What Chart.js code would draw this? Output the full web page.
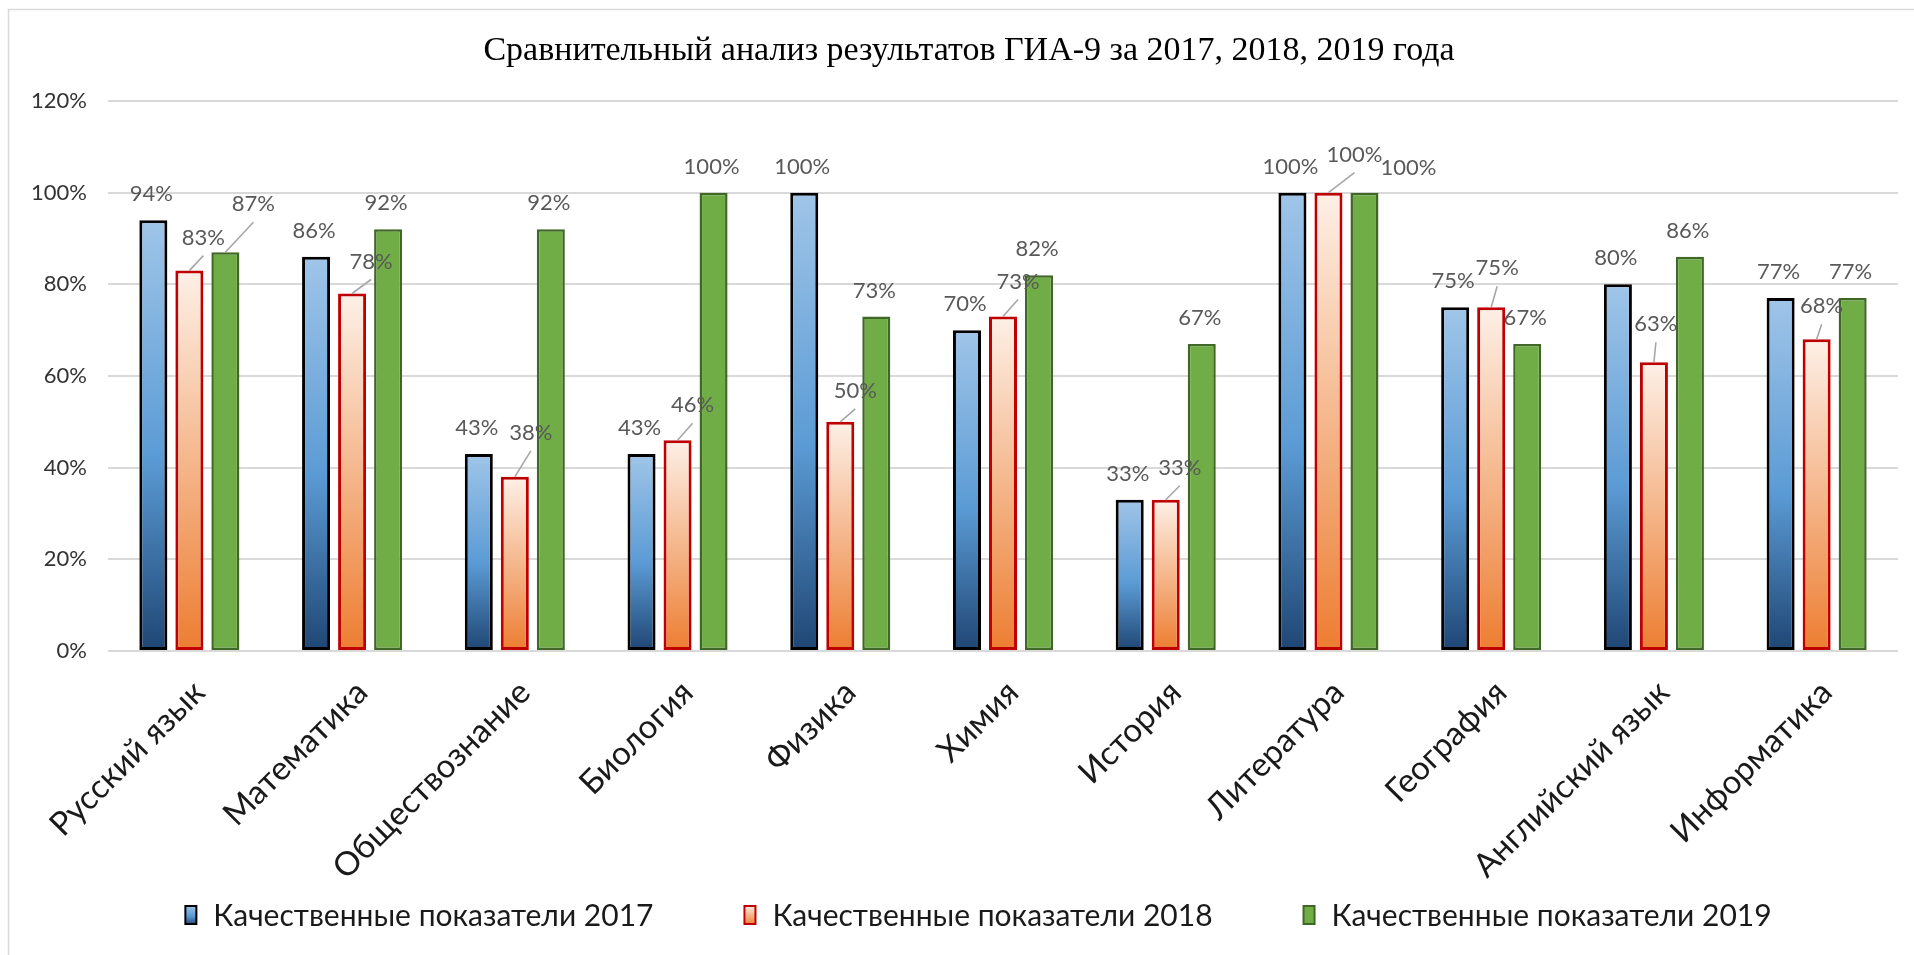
<!DOCTYPE html>
<html>
<head>
<meta charset="utf-8">
<script src="https://cdn.jsdelivr.net/npm/chart.js@4.4.1/dist/chart.umd.min.js"></script>
<style>
html,body{margin:0;padding:0;background:#fff;}
#wrap{width:1914px;height:955px;position:relative;overflow:hidden;}
canvas{display:block;}
</style>
</head>
<body>
<div id="wrap"><canvas id="c" width="1914" height="955"></canvas></div>
<script>
// ---------- DATA ----------
const titleText = 'Сравнительный анализ результатов ГИА-9 за 2017, 2018, 2019 года';
const categories = ['Русский язык','Математика','Обществознание','Биология','Физика','Химия','История','Литература','География','Английский язык','Информатика'];
const seriesNames = ['Качественные показатели 2017','Качественные показатели 2018','Качественные показатели 2019'];
const values2017 = [94, 86, 43, 43, 100, 70, 33, 100, 75, 80, 77];
const values2018 = [83, 78, 38, 46, 50, 73, 33, 100, 75, 63, 68];
const values2019 = [87, 92, 92, 100, 73, 82, 67, 100, 67, 86, 77];
const yTickValues = [0, 20, 40, 60, 80, 100, 120];

// ---------- STYLE ----------
const sansFont = 'Lato, "Open Sans", "DejaVu Sans", sans-serif';
const serifFont = '"Liberation Serif", "DejaVu Serif", serif';
const blueStops = [[0,'#a0c5e8'],[0.55,'#5b9bd5'],[1,'#1f4674']];
const orangeStops = [[0,'#fdf0e7'],[0.55,'#f4b183'],[1,'#ed7d31']];
const greenStops = [[0,'#70ad47'],[1,'#70ad47']];
// label nudges relative to the bar top centre: [dx, dy, leaderLine]
const defaultNudge = [-2, -26, false];
const nudges2017 = {};
const nudges2018 = {0:[14,-33,true],1:[19,-32,true],2:[16,-44,true],3:[15,-35,true],4:[15,-31,true],5:[15,-35,true],6:[14,-32,true],7:[26,-38,true],8:[6,-39,true],9:[2,-38,true],10:[5,-33,true]};
const nudges2019 = {0:[28,-48,true],7:[44,-25,false]};

function gradientFill(stops){
  return function(c){
    const chart = c.chart, ys = chart.scales.y;
    if (!ys || c.type !== 'data' || !isFinite(ys.getPixelForValue(0))) return stops[Math.floor(stops.length/2)][1];
    const top = ys.getPixelForValue(c.raw), bot = ys.getPixelForValue(0);
    if (!isFinite(top) || bot - top < 1) return stops[0][1];
    const g = chart.ctx.createLinearGradient(0, top, 0, bot);
    stops.forEach(s => g.addColorStop(s[0], s[1]));
    return g;
  };
}

const seriesStyles = [
  {stops: blueStops, border: '#000000', bw: 3, nudges: nudges2017},
  {stops: orangeStops, border: '#c00000', bw: 3, nudges: nudges2018},
  {stops: greenStops, border: '#3f6826', bw: 2.5, nudges: nudges2019}
];
const seriesValues = [values2017, values2018, values2019];

const datasets = seriesValues.map((vals, i) => ({
  label: seriesNames[i],
  data: vals,
  backgroundColor: gradientFill(seriesStyles[i].stops),
  borderColor: seriesStyles[i].border,
  borderWidth: seriesStyles[i].bw,
  borderSkipped: false,
  categoryPercentage: 0.664,
  barPercentage: 0.778
}));

const framePlugin = {
  id: 'frameAndTitle',
  beforeDraw(chart){
    const ctx = chart.ctx;
    ctx.save();
    ctx.fillStyle = '#ffffff';
    ctx.fillRect(0, 0, chart.width, chart.height);
    ctx.strokeStyle = '#d9d9d9';
    ctx.lineWidth = 1.5;
    ctx.strokeRect(8.5, 9.5, chart.width + 20, chart.height + 20);
    ctx.font = '34px ' + serifFont;
    ctx.fillStyle = '#000000';
    ctx.textAlign = 'center';
    ctx.textBaseline = 'alphabetic';
    ctx.fillText(titleText, 969, 60);
    ctx.restore();
  }
};

const valueLabelPlugin = {
  id: 'valueLabels',
  afterDatasetsDraw(chart){
    const ctx = chart.ctx;
    ctx.save();
    ctx.font = '22px ' + sansFont;
    ctx.textAlign = 'center';
    ctx.textBaseline = 'middle';
    chart.data.datasets.forEach((ds, di) => {
      const meta = chart.getDatasetMeta(di);
      const nud = seriesStyles[di].nudges;
      meta.data.forEach((bar, i) => {
        const n = nud[i] || defaultNudge;
        const cx = bar.x + n[0], cy = bar.y + n[1];
        if (n[2]) {
          ctx.strokeStyle = '#a6a6a6';
          ctx.lineWidth = 1.6;
          ctx.beginPath();
          ctx.moveTo(bar.x, bar.y);
          ctx.lineTo(cx, cy + 18);
          ctx.stroke();
        }
        ctx.fillStyle = '#595959';
        ctx.fillText(ds.data[i] + '%', cx, cy);
      });
    });
    ctx.restore();
  }
};

const legendPlugin = {
  id: 'bottomLegend',
  afterDraw(chart){
    const ctx = chart.ctx;
    ctx.save();
    ctx.font = '30px ' + sansFont;
    ctx.textAlign = 'left';
    ctx.textBaseline = 'middle';
    const boxW = 13, boxH = 20, textGap = 16, itemGap = 90, centerX = 978, cy = 915;
    const widths = chart.data.datasets.map(ds => ctx.measureText(ds.label).width);
    const total = widths.reduce((s, w) => s + boxW + textGap + w, 0) + itemGap * (widths.length - 1);
    let x = centerX - total / 2;
    chart.data.datasets.forEach((ds, i) => {
      const st = seriesStyles[i];
      const top = cy - boxH / 2;
      const g = ctx.createLinearGradient(0, top, 0, top + boxH);
      st.stops.forEach(s => g.addColorStop(s[0], s[1]));
      ctx.fillStyle = st.border;
      ctx.fillRect(x, top, boxW, boxH);
      ctx.fillStyle = g;
      ctx.fillRect(x + 2, top + 2, boxW - 4, boxH - 4);
      ctx.fillStyle = '#1a1a1a';
      ctx.fillText(ds.label, x + boxW + textGap, cy + 1);
      x += boxW + textGap + widths[i] + itemGap;
    });
    ctx.restore();
  }
};

new Chart(document.getElementById('c'), {
  type: 'bar',
  data: { labels: categories, datasets },
  options: {
    responsive: false,
    animation: false,
    devicePixelRatio: 1,
    layout: { padding: { top: 101, right: 16, left: 0, bottom: 0 } },
    plugins: {
      legend: { display: false },
      title: { display: false },
      tooltip: { enabled: false }
    },
    scales: {
      x: {
        grid: { display: false, drawTicks: false },
        border: { display: false },
        ticks: {
          autoSkip: false, maxRotation: 45, minRotation: 45,
          color: '#1a1a1a', font: { family: sansFont, size: 33 },
          padding: 22, labelOffset: 10
        },
        afterFit(scale){ scale.height = 304; }
      },
      y: {
        min: 0, max: 120,
        afterBuildTicks(scale){ scale.ticks = yTickValues.map(v => ({value: v})); },
        grid: { color: '#d9d9d9', lineWidth: 2, drawTicks: false },
        border: { display: false },
        ticks: {
          color: '#333333', font: { family: sansFont, size: 22 }, padding: 21,
          callback: v => v + '%'
        },
        afterFit(scale){ scale.width = 108; }
      }
    }
  },
  plugins: [framePlugin, valueLabelPlugin, legendPlugin]
});
</script>
</body>
</html>
